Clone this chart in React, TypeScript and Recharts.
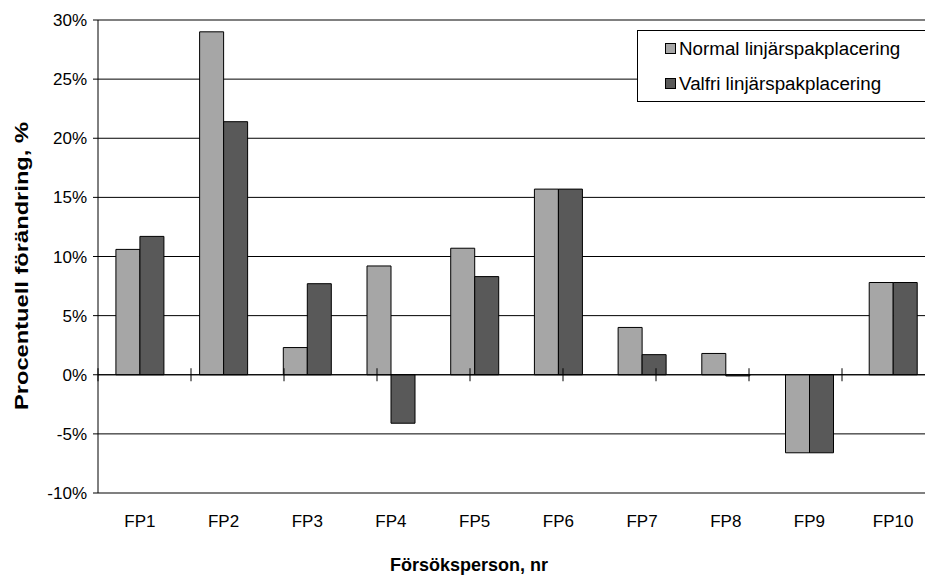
import React from 'react';
import {
  BarChart,
  Bar,
  XAxis,
  YAxis,
  CartesianGrid,
  ReferenceLine,
  Legend,
  Label,
} from 'recharts';

const categories = ['FP1', 'FP2', 'FP3', 'FP4', 'FP5', 'FP6', 'FP7', 'FP8', 'FP9', 'FP10'];
const normalValues = [10.6, 29.0, 2.3, 9.2, 10.7, 15.7, 4.0, 1.8, -6.6, 7.8];
const valfriValues = [11.7, 21.4, 7.7, -4.1, 8.3, 15.7, 1.7, -0.1, -6.6, 7.8];
const yTicks = [-10, -5, 0, 5, 10, 15, 20, 25, 30];
const categoryBoundaries = [0, 1, 2, 3, 4, 5, 6, 7, 8, 9, 10];

const seriesNames = ['Normal linjärspakplacering', 'Valfri linjärspakplacering'];
const seriesColors = ['#a6a6a6', '#595959'];

const data = categories.map((name, i) => ({
  name,
  normal: normalValues[i],
  valfri: valfriValues[i],
}));

const XTick = (props: any) => {
  const { x, y, payload } = props;
  return (
    <text x={x} y={y + 34} textAnchor="middle" fontSize={17} fill="#000">
      {payload.value}
    </text>
  );
};

const LegendBox = (props: any) => {
  const { payload } = props;
  return (
    <div
      style={{
        borderTop: '1px solid #000',
        borderBottom: '1px solid #000',
        borderLeft: '1px solid #000',
        boxSizing: 'border-box',
        width: 288,
        height: 72,
        background: '#fff',
        overflow: 'hidden',
      }}
    >
      {(payload || []).map((entry: any, i: number) => (
        <div
          key={i}
          style={{
            display: 'flex',
            alignItems: 'center',
            height: 35,
            paddingLeft: 27,
          }}
        >
          <div
            style={{
              width: 11,
              height: 11,
              flex: '0 0 11px',
              boxSizing: 'border-box',
              border: '1px solid #000',
              background: entry.color,
            }}
          />
          <span style={{ marginLeft: 3, fontSize: 18.8, color: '#000', whiteSpace: 'nowrap' }}>
            {entry.value}
          </span>
        </div>
      ))}
    </div>
  );
};

export default function App() {
  return (
    <div
      style={{
        position: 'absolute',
        left: 0,
        top: 0,
        width: 925,
        height: 575,
        overflow: 'hidden',
        background: '#fff',
        fontFamily: "'Liberation Sans', Arial, sans-serif",
      }}
    >
      <BarChart
        width={925}
        height={575}
        data={data}
        margin={{ top: 20, right: -10, bottom: 0, left: 0 }}
        barCategoryGap="21.4%"
        barGap={0}
      >
        <CartesianGrid vertical={false} stroke="#000" />
        <XAxis
          xAxisId="cat"
          dataKey="name"
          height={82}
          axisLine={false}
          tickLine={false}
          tickSize={0}
          tickMargin={0}
          tick={<XTick />}
          interval={0}
        >
          <Label
            content={() => (
              <text x={469} y={571} textAnchor="middle" fontSize={18} fontWeight="bold" fill="#000">
                Försöksperson, nr
              </text>
            )}
          />
        </XAxis>
        <XAxis
          xAxisId="num"
          type="number"
          domain={[0, 10]}
          allowDataOverflow
          hide
        />
        <YAxis
          width={98}
          domain={[-10, 30]}
          ticks={yTicks}
          allowDataOverflow
          interval={0}
          tickFormatter={(v: number) => `${v}%`}
          tick={{ fill: '#000', fontSize: 17 }}
          tickSize={5}
          tickMargin={6}
          axisLine={{ stroke: '#000' }}
          tickLine={{ stroke: '#000' }}
        >
          <Label
            content={() => (
              <text
                x={21}
                y={266}
                transform="rotate(-90, 21, 266)"
                textAnchor="middle"
                dominantBaseline="central"
                fontSize={19}
                fontWeight="bold"
                fill="#000"
                textLength={288}
                lengthAdjust="spacingAndGlyphs"
              >
                Procentuell förändring, %
              </text>
            )}
          />
        </YAxis>
        <Legend
          layout="vertical"
          align="center"
          verticalAlign="middle"
          wrapperStyle={{ left: 637, top: 30, width: 288, height: 72 }}
          content={<LegendBox />}
        />
        <Bar
          xAxisId="cat"
          dataKey="normal"
          name={seriesNames[0]}
          fill={seriesColors[0]}
          stroke="#000"
          strokeWidth={1}
          isAnimationActive={false}
        />
        <Bar
          xAxisId="cat"
          dataKey="valfri"
          name={seriesNames[1]}
          fill={seriesColors[1]}
          stroke="#000"
          strokeWidth={1}
          isAnimationActive={false}
        />
        <ReferenceLine xAxisId="cat" y={30} stroke="#808080" strokeWidth={2} />
        <ReferenceLine xAxisId="cat" y={-10} stroke="#808080" strokeWidth={2} />
        <ReferenceLine xAxisId="cat" y={0} stroke="#000" />
        {categoryBoundaries.map((b) => (
          <ReferenceLine
            key={b}
            xAxisId="num"
            segment={[
              { x: b, y: -0.55 },
              { x: b, y: 0.55 },
            ]}
            stroke="#000"
          />
        ))}
      </BarChart>
    </div>
  );
}
